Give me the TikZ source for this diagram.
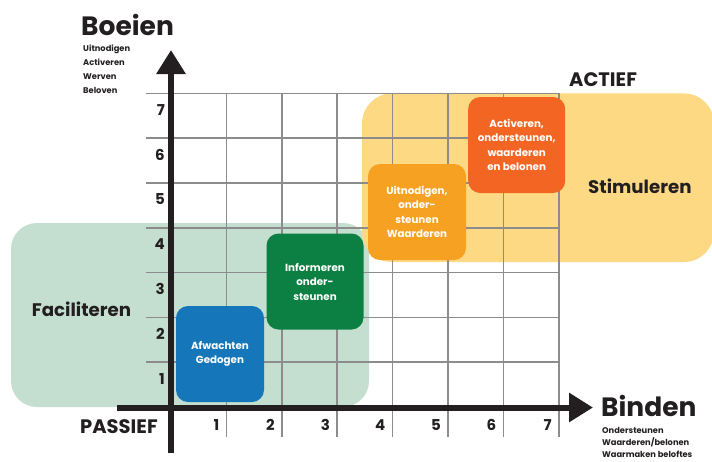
\documentclass[tikz,border=0pt]{standalone}
\usepackage{fontspec}
\setmainfont{Poppins}
\usepackage{tikz}
\usetikzlibrary{arrows.meta}

\definecolor{ink}{HTML}{231F20}
\definecolor{gridgray}{HTML}{8C8C8C}
\definecolor{faciel}{HTML}{C4DFCF}
\definecolor{stimul}{HTML}{FDD984}
\definecolor{boxblue}{HTML}{1577B9}
\definecolor{boxgreen}{HTML}{0C8042}
\definecolor{boxorange}{HTML}{F7A123}
\definecolor{boxred}{HTML}{F26522}

\tikzset{
    x=1pt,
    y=-1pt,
    gridline/.style = {
        draw=gridgray,
        line width=1.5pt
    },
    axis/.style = {
        draw=ink,
        line width=6pt,
        -{Triangle[length=24pt,width=28pt]}
    },
    block/.style = {
        shape=rectangle,
        rounded corners=12pt,
        minimum height=96pt,
        minimum width=97pt,
        inner sep=2pt,
        text=white,
        align=center,
        font=\bfseries\fontsize{10.3}{14.5}\selectfont
    },
    title/.style = {
        anchor=base west,
        inner sep=0pt,
        text=ink,
        font=\bfseries\fontsize{26.5}{30}\selectfont
    },
    sub/.style = {
        anchor=base west,
        inner sep=0pt,
        text=ink,
        font=\bfseries\fontsize{8.3}{10}\selectfont
    },
    label/.style = {
        anchor=base west,
        inner sep=0pt,
        text=ink,
        font=\bfseries\fontsize{18.2}{20}\selectfont
    },
    caps/.style = {
        label,
        font=\bfseries\fontsize{19.5}{22}\selectfont
    },
    tick/.style = {
        anchor=base east,
        inner sep=0pt,
        text=ink,
        font=\bfseries\fontsize{15}{18}\selectfont
    },
}

\begin{document}
\begin{tikzpicture}
                \useasboundingbox (0,0) rectangle (712,461);

                % areas
                \path[fill=faciel, rounded corners=26pt] (11,223) rectangle (369,407);
                \path[fill=stimul, rounded corners=30pt] (362,93.4) rectangle (714,262);

                % grid
                \path[gridline] (226.4,93.4) -- (226.4,437);
                \path[gridline] (281.8,93.4) -- (281.8,437);
                \path[gridline] (337.2,93.4) -- (337.2,437);
                \path[gridline] (392.6,93.4) -- (392.6,437);
                \path[gridline] (448,93.4) -- (448,437);
                \path[gridline] (503.4,93.4) -- (503.4,437);
                \path[gridline] (558.8,93.4) -- (558.8,437);
                \path[gridline] (146,362.2) -- (558.8,362.2);
                \path[gridline] (146,317.4) -- (558.8,317.4);
                \path[gridline] (146,272.6) -- (558.8,272.6);
                \path[gridline] (146,227.8) -- (558.8,227.8);
                \path[gridline] (146,183) -- (558.8,183);
                \path[gridline] (146,138.2) -- (558.8,138.2);
                \path[gridline] (146,93.4) -- (558.8,93.4);

                % blocks
                \node[block, fill=boxblue, minimum width=88pt] (afw) at (220,354) {Afwachten\\Gedogen};
                \node[block, fill=boxgreen] (inf) at (315,281.5) {Informeren\\onder-\\steunen};
                \node[block, fill=boxorange, minimum width=98pt] (uit) at (417,212) {Uitnodigen,\\onder-\\steunen\\Waarderen};
                \node[block, fill=boxred] (act) at (516.7,145) {Activeren,\\ondersteunen,\\waarderen\\en belonen};

                % axes
                \coordinate (yfoot) at (171,453);
                \coordinate (ytop) at (171,50);
                \coordinate (xfoot) at (117,407.5);
                \coordinate (xtop) at (593,407.5);
                \path[axis] (yfoot) -- (ytop);
                \path[axis] (xfoot) -- (xtop);

                % ticks
                \node[tick] (y1) at (165,384) {1};
                \node[tick] (y2) at (165,339.2) {2};
                \node[tick] (y3) at (165,294.4) {3};
                \node[tick] (y4) at (165,249.6) {4};
                \node[tick] (y5) at (165,204.8) {5};
                \node[tick] (y6) at (165,160) {6};
                \node[tick] (y7) at (165,115.2) {7};
                \node[tick] (x1) at (219.4,430) {1};
                \node[tick] (x2) at (274.8,430) {2};
                \node[tick] (x3) at (330.2,430) {3};
                \node[tick] (x4) at (385.6,430) {4};
                \node[tick] (x5) at (441,430) {5};
                \node[tick] (x6) at (496.4,430) {6};
                \node[tick] (x7) at (551.8,430) {7};

                % texts
                \node[title] (boeien) at (81,35) {Boeien};
                \node[sub] (b1) at (83,51.7) {Uitnodigen};
                \node[sub] (b2) at (83,65.7) {Activeren};
                \node[sub] (b3) at (83,79.7) {Werven};
                \node[sub] (b4) at (83,93.5) {Beloven};
                \node[title] (binden) at (601,416) {Binden};
                \node[sub] (d1) at (602,433.5) {Ondersteunen};
                \node[sub] (d2) at (602,445.3) {Waarderen/belonen};
                \node[sub] (d3) at (602,457) {Waarmaken beloftes};
                \node[caps] (passief) at (80,433.3) {PASSIEF};
                \node[caps] (actief) at (569,86.7) {ACTIEF};
                \node[label] (stim) at (588,193.3) {Stimuleren};
                \node[label] (fac) at (31.7,316) {Faciliteren};
            \end{tikzpicture}
\end{document}
